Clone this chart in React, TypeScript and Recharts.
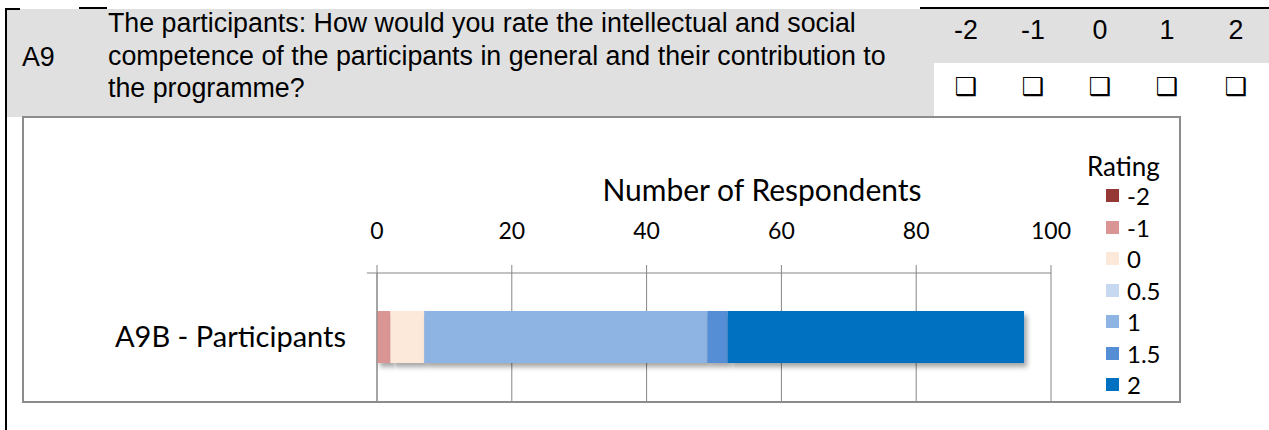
import React from 'react';
import { BarChart, Bar, XAxis, YAxis, CartesianGrid, Legend, ReferenceLine, Rectangle } from 'recharts';

const categories = ['A9B - Participants'];
const ratings = ['-2', '-1', '0', '0.5', '1', '1.5', '2'];
const ratingColors = ['#953735', '#d99694', '#fde9d9', '#c6d9f1', '#8eb4e3', '#558ed5', '#0070c0'];
const counts = [0, 2, 5, 0, 42, 3, 44];
const xTicks = [0, 20, 40, 60, 80, 100];
const scaleLabels = ['-2', '-1', '0', '1', '2'];
const scaleCenters = [966, 1033, 1100, 1167, 1236];
const questionLines = [
  'The participants: How would you rate the intellectual and social',
  'competence of the participants in general and their contribution to',
  'the programme?',
];

const data = categories.map((name) => {
  const row: Record<string, string | number> = { name };
  ratings.forEach((_, i) => {
    row['r' + i] = counts[i];
  });
  return row;
});

const chartFont = 'Lato, "Open Sans", sans-serif';
const axisColor = '#868686';

const ShadowBar = (props: any) => <Rectangle {...props} filter="url(#barShadow)" />;

// keep legend in series order (-2 .. 2)
const renderLegend = (props: any) => {
  const items = [...(props.payload || [])].sort(
    (a: any, b: any) => ratings.indexOf(a.value) - ratings.indexOf(b.value)
  );
  return (
    <div style={{ fontFamily: chartFont, color: '#000' }}>
      <div style={{ fontSize: 26, lineHeight: '27px', whiteSpace: 'nowrap' }}>Rating</div>
      {items.map((it: any) => (
        <div key={it.value} style={{ display: 'flex', alignItems: 'center', height: 31.5 }}>
          <span style={{ display: 'inline-block', width: 13, height: 13, background: it.color, marginLeft: 19, marginRight: 8 }} />
          <span style={{ fontSize: 24, lineHeight: '31px' }}>{it.value}</span>
        </div>
      ))}
    </div>
  );
};

export default function App() {
  return (
    <div style={{ position: 'absolute', left: 0, top: 0, width: 1269, height: 430, background: '#fff', overflow: 'hidden', fontFamily: '"Liberation Sans", Arial, sans-serif', color: '#000' }}>
      {/* table header */}
      <div style={{ position: 'absolute', left: 7, top: 9, width: 927, height: 108, background: '#e0e0e0' }} />
      <div style={{ position: 'absolute', left: 934, top: 9, width: 335, height: 54, background: '#e0e0e0' }} />
      <div style={{ position: 'absolute', left: 5, top: 8, width: 2, height: 422, background: '#000' }} />
      <div style={{ position: 'absolute', left: 5, top: 8, width: 15, height: 2, background: '#000' }} />
      <div style={{ position: 'absolute', left: 79, top: 7, width: 28, height: 2, background: '#000' }} />
      <div style={{ position: 'absolute', left: 920, top: 7, width: 349, height: 2, background: '#000' }} />
      <div style={{ position: 'absolute', left: 22, top: 41, fontSize: 26.8, lineHeight: '32px' }}>A9</div>
      <div style={{ position: 'absolute', left: 108, top: 7, fontSize: 26.8, lineHeight: '32.5px', whiteSpace: 'nowrap' }}>
        {questionLines.map((l) => (
          <div key={l}>{l}</div>
        ))}
      </div>
      {scaleLabels.map((s, i) => (
        <React.Fragment key={s}>
          <div style={{ position: 'absolute', left: scaleCenters[i] - 30, width: 60, top: 14, fontSize: 26.8, lineHeight: '32px', textAlign: 'center' }}>{s}</div>
          <div style={{ position: 'absolute', left: scaleCenters[i] - 30, width: 60, top: 71, fontSize: 25, fontWeight: 'bold', lineHeight: '32px', textAlign: 'center', fontFamily: '"DejaVu Sans", sans-serif' }}>❑</div>
        </React.Fragment>
      ))}

      {/* chart area */}
      <div style={{ position: 'absolute', left: 22, top: 116, width: 1159, height: 287, border: '2px solid #8c8c8c', boxSizing: 'border-box', background: '#fff' }} />
      <div style={{ position: 'absolute', left: 562, width: 400, top: 171, fontFamily: chartFont, fontSize: 30, lineHeight: '36px', textAlign: 'center' }}>
        Number of Respondents
      </div>
      <div style={{ position: 'absolute', left: 0, top: 0 }}>
        <BarChart
          width={1269}
          height={430}
          data={data}
          layout="vertical"
          margin={{ top: 233, right: 218, bottom: 29, left: 0 }}
        >
          <defs>
            <filter id="barShadow" x="-20%" y="-30%" width="140%" height="170%">
              <feDropShadow dx="3" dy="4" stdDeviation="2.5" floodColor="#000" floodOpacity="0.35" />
            </filter>
          </defs>
          <CartesianGrid horizontal={false} stroke={axisColor} />
          <XAxis
            type="number"
            orientation="top"
            domain={[0, 100]}
            ticks={xTicks}
            height={40}
            axisLine={{ stroke: axisColor }}
            tickLine={{ stroke: axisColor }}
            tickSize={8}
            tickMargin={26}
            tick={{ fontSize: 23, fill: '#000', fontFamily: chartFont }}
          />
          <YAxis
            type="category"
            dataKey="name"
            width={377}
            axisLine={{ stroke: axisColor }}
            tickLine={false}
            tickMargin={25}
            tick={{ fontSize: 29, fill: '#000', fontFamily: chartFont }}
          />
          <ReferenceLine
            segment={[{ x: -1.5, y: categories[0] }, { x: 0, y: categories[0] }]}
            position="start"
            ifOverflow="visible"
            stroke={axisColor}
          />
          {ratings.map((r, i) => (
            <Bar
              key={r}
              dataKey={'r' + i}
              name={r}
              stackId="a"
              fill={ratingColors[i]}
              barSize={52}
              shape={ShadowBar}
              isAnimationActive={false}
            />
          ))}
          <Legend
            layout="vertical"
            align="center"
            verticalAlign="middle"
            content={renderLegend}
            wrapperStyle={{ left: 1087, top: 153, width: 100, height: 'auto' }}
          />
        </BarChart>
      </div>
    </div>
  );
}
